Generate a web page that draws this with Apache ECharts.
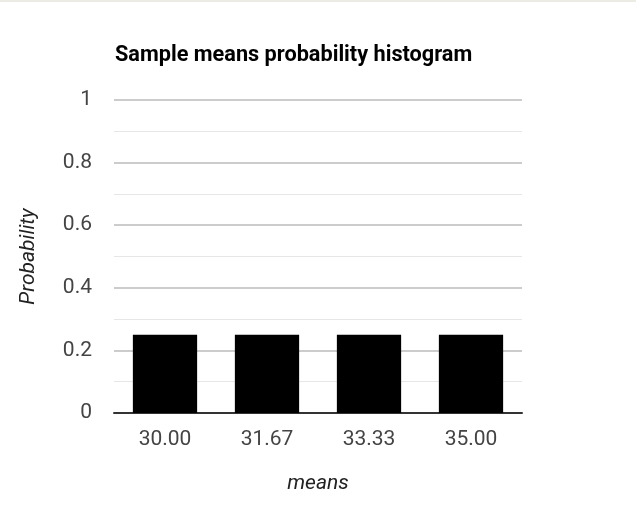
<!DOCTYPE html>
<html><head><meta charset="utf-8">
<script src="https://cdn.jsdelivr.net/npm/echarts@6/dist/echarts.min.js"></script>
<style>html,body{margin:0;padding:0;background:#fff;}#c{width:636px;height:505px;}
#top{position:absolute;left:0;top:0;width:636px;height:2px;background:#ecece4;}</style>
</head><body><div id="c"></div><div id="top"></div>
<script>
const title = 'Sample means probability histogram';
const categories = ['30.00', '31.67', '33.33', '35.00'];
const probabilities = [0.25, 0.25, 0.25, 0.25];
const xAxisTitle = 'means';
const yAxisTitle = 'Probability';

const chart = echarts.init(document.getElementById('c'), null, {renderer: 'canvas'});
chart.setOption({
  animation: false,
  textStyle: {fontFamily: 'Roboto'},
  title: {text: title, left: 110, top: 40,
    textStyle: {fontFamily: 'Roboto', fontWeight: 'bold', fontSize: 21.7, color: '#000'}},
  grid: {left: 114, right: 114, top: 100, bottom: 92},
  xAxis: {
    type: 'category', data: categories,
    name: xAxisTitle, nameLocation: 'middle', nameGap: 60,
    nameTextStyle: {fontStyle: 'italic', fontSize: 21, color: '#222'},
    axisLine: {lineStyle: {color: '#333', width: 2}},
    axisTick: {show: false},
    axisLabel: {fontSize: 21, color: '#444', margin: 16}
  },
  yAxis: {
    type: 'value', min: 0, max: 1, interval: 0.2,
    name: yAxisTitle, nameLocation: 'middle', nameGap: 75,
    nameTextStyle: {fontStyle: 'italic', fontSize: 21, color: '#222'},
    axisLine: {show: false}, axisTick: {show: false},
    axisLabel: {fontSize: 21, color: '#444', margin: 22},
    splitLine: {lineStyle: {color: '#cccccc', width: 2}},
    minorTick: {show: false, splitNumber: 2},
    minorSplitLine: {show: true, lineStyle: {color: '#e6e6e6', width: 1}}
  },
  series: [{
    type: 'bar', data: probabilities, barWidth: '63%',
    itemStyle: {color: '#000'}
  }]
});
</script></body></html>
